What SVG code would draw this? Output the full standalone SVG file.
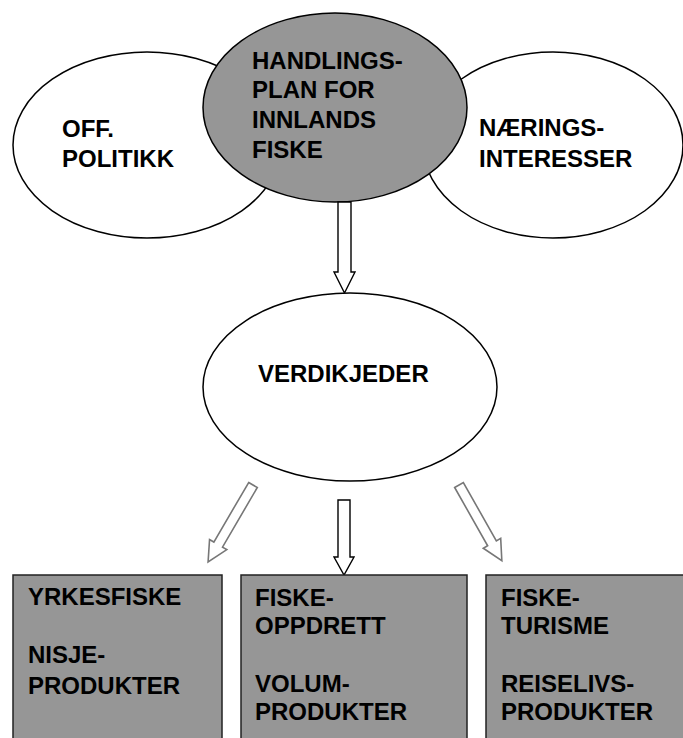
<svg xmlns="http://www.w3.org/2000/svg" width="683" height="738" viewBox="0 0 683 738">
<style>
.bg{fill:#ffffff}
.wel{fill:#ffffff;stroke:#000000;stroke-width:1.5}
.gel{fill:#969696;stroke:#000000;stroke-width:1.5}
.box{fill:#969696;stroke:#222222;stroke-width:1.5}
.arr{fill:#ffffff;stroke:#000000;stroke-width:1.4;stroke-linejoin:miter}
.garr{fill:#ffffff;stroke:#777777;stroke-width:1.6;stroke-linejoin:miter}
text{font-family:"Liberation Sans",Arial,sans-serif;font-weight:bold;font-size:24px;fill:#000000}
</style>
<rect class="bg" x="0" y="0" width="683" height="738"/>
<g id="off-politikk">
<ellipse class="wel" cx="147" cy="145" rx="134" ry="93"/>
<text x="62" y="137">OFF.</text>
<text x="62" y="167">POLITIKK</text>
</g>
<g id="naeringsinteresser">
<ellipse class="wel" cx="553" cy="145" rx="130" ry="93"/>
<text x="479" y="136">NÆRINGS-</text>
<text x="479" y="167">INTERESSER</text>
</g>
<g id="handlingsplan">
<ellipse class="gel" cx="335" cy="107.5" rx="132" ry="94.5"/>
<text x="252" y="69">HANDLINGS-</text>
<text x="252" y="98">PLAN FOR</text>
<text x="252" y="128">INNLANDS</text>
<text x="252" y="158">FISKE</text>
</g>
<g id="connectors">
<polygon class="arr" points="338,202 351,202 351,272 355,272 344.5,293 334,272 338,272"/>
<polygon class="arr" points="338,500 350,500 350,557 354,557 344,575 334,557 338,557"/>
<polygon class="garr" transform="translate(253,485) rotate(30.3)" points="-5,0 5,0 5,69 10,69 0,89 -10,69 -5,69"/>
<polygon class="garr" transform="translate(459,485) rotate(-29.5)" points="-5,0 5,0 5,67 10,67 0,87 -10,67 -5,67"/>
</g>
<g id="verdikjeder">
<ellipse class="wel" cx="350" cy="387" rx="147" ry="94"/>
<text x="258" y="382">VERDIKJEDER</text>
</g>
<g id="yrkesfiske">
<rect class="box" x="13" y="575" width="209" height="175"/>
<text x="28" y="605">YRKESFISKE</text>
<text x="28" y="663">NISJE-</text>
<text x="28" y="694">PRODUKTER</text>
</g>
<g id="fiskeoppdrett">
<rect class="box" x="241" y="575" width="226" height="175"/>
<text x="255" y="606">FISKE-</text>
<text x="255" y="634">OPPDRETT</text>
<text x="255" y="692">VOLUM-</text>
<text x="255" y="720">PRODUKTER</text>
</g>
<g id="fisketurisme">
<rect class="box" x="486" y="575" width="210" height="175"/>
<text x="501" y="606">FISKE-</text>
<text x="501" y="634">TURISME</text>
<text x="501" y="692">REISELIVS-</text>
<text x="501" y="720">PRODUKTER</text>
</g>
</svg>
